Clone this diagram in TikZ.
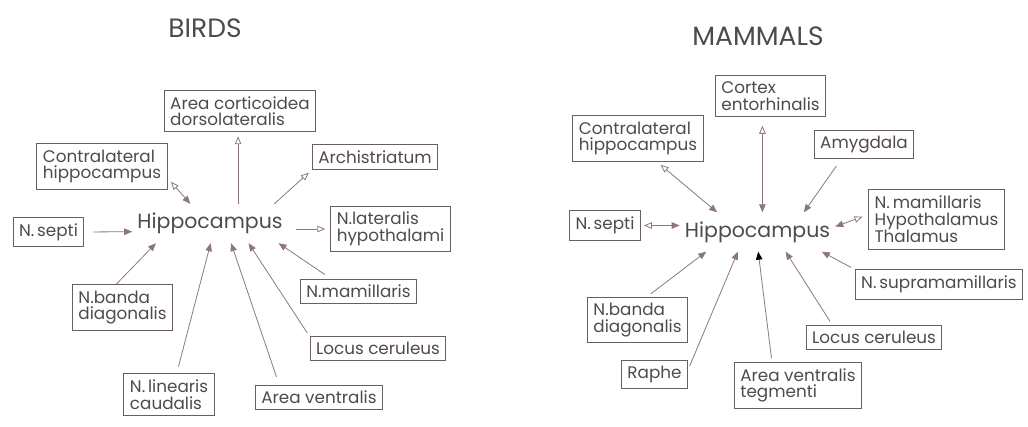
\documentclass[tikz,border=0pt]{standalone}
\usepackage{fontspec}
\setmainfont{Poppins}
\usetikzlibrary{arrows.meta}
\definecolor{boxgray}{HTML}{6B5E60}
\definecolor{arrmauve}{HTML}{8E7680}
\definecolor{txtgray}{HTML}{4F4A4B}
\tikzset{lbl/.style={draw=boxgray, line width=1pt, text=txtgray, align=left, inner xsep=6pt, inner ysep=6pt, font=\fontsize{16.8}{16.5}\selectfont},
  hippo/.style={text=txtgray, inner xsep=5pt, inner ysep=9pt, font=\fontsize{20.5}{24}\selectfont},
  ttl/.style={text=txtgray, font=\fontsize{26.5}{30}\selectfont},
  inarr/.style={-{Triangle[length=8pt,width=6.5pt]}, draw=arrmauve, line width=0.8pt},
  outarr/.style={-{Triangle[open,length=8pt,width=6.5pt]}, draw=arrmauve, line width=0.8pt},
  biarr/.style={{Triangle[open,length=8pt,width=6.5pt]}-{Triangle[length=8pt,width=6.5pt]}, draw=arrmauve, line width=0.8pt}}

\begin{document}
\begin{tikzpicture}[x=1pt, y=-1pt]
\useasboundingbox (0,0) rectangle (1028,426);
\node[ttl] (birds) at (205,28) {BIRDS};
\node[hippo] (hippoB) at (210,223.5) {Hippocampus};
\node[lbl] (cortB) at (240,111) {Area corticoidea\\dorsolateralis};
\node[lbl] (contraB) at (102,166.5) {Contralateral\\hippocampus};
\node[lbl] (archB) at (375,157) {Archistriatum};
\node[lbl] (septiB) at (48.5,232) {N.\,septi};
\node[lbl] (latB) at (390.5,229) {N.lateralis\\hypothalami};
\node[lbl] (mamB) at (358.5,291.5) {N.mamillaris};
\node[lbl] (bandaB) at (122.5,307.5) {N.banda\\diagonalis};
\node[lbl] (locB) at (378,348.5) {Locus ceruleus};
\node[lbl] (linB) at (169,394.5) {N.\,linearis\\caudalis};
\node[lbl] (avB) at (319,397.5) {Area ventralis};
\draw[inarr, shorten <=9pt] (septiB.east) -- (hippoB.186);
\draw[inarr] (bandaB.105) -- (hippoB.200);
\draw[inarr, shorten <=7pt] (linB.70) -- (hippoB.272);
\draw[inarr, shorten <=8pt] (avB.162) -- (hippoB.317);
\draw[inarr, shorten <=4pt] (locB.170) -- (hippoB.333);
\draw[inarr, shorten <=7pt] (mamB.155) -- (hippoB.344);
\draw[biarr, shorten <=5pt] (contraB.-10) -- (hippoB.135);
\draw[outarr, shorten >=4pt] (hippoB.35) -- (hippoB.35 |- cortB.south);
\draw[outarr, shorten >=4pt] (hippoB.17) -- (archB.south west);
\draw[outarr, shorten <=8pt, shorten >=5pt] (latB.west -| hippoB.east) -- (latB.west);

\node[ttl] (mammals) at (758,36) {MAMMALS};
\node[hippo] (hippoM) at (757.5,232) {Hippocampus};
\node[lbl] (cortM) at (770.5,96) {Cortex\\entorhinalis};
\node[lbl] (contraM) at (638,138.5) {Contralateral\\hippocampus};
\node[lbl] (amyM) at (864,144.5) {Amygdala};
\node[lbl] (mamM) at (936.5,219.5) {N.\,mamillaris\\Hypothalamus\\Thalamus};
\node[lbl] (septiM) at (605,225.5) {N.\,septi};
\node[lbl] (suprM) at (939,284.5) {N.\,supramamillaris};
\node[lbl] (bandaM) at (637.5,320) {N.banda\\diagonalis};
\node[lbl] (locM) at (874,337.5) {Locus ceruleus};
\node[lbl] (rapheM) at (654.5,374.5) {Raphe};
\node[lbl] (avtM) at (798,385.5) {Area ventralis\\tegmenti};
\draw[biarr, shorten <=5pt] (contraM.-51) -- (hippoM.154);
\draw[biarr, shorten <=9pt] (hippoM.76 |- cortM.south) -- (hippoM.76);
\draw[inarr, shorten <=8pt] (amyM.213) -- (hippoM.23);
\draw[biarr, shorten <=6pt] (mamM.176) -- (hippoM.4);
\draw[inarr, shorten <=4pt] (suprM.north west) -- (hippoM.343);
\draw[biarr, shorten <=3pt] (septiM.east) -- (septiM.east -| hippoM.west);
\draw[inarr, shorten <=5pt] (bandaM.68) -- (hippoM.201);
\draw[inarr, shorten <=4pt] (rapheM.8) -- (hippoM.225);
\draw[inarr, shorten <=4pt, -{Triangle[length=8pt,width=6.5pt,color=black]}] (avtM.138) -- (hippoM.272);
\draw[inarr, shorten <=4pt] (locM.163) -- (hippoM.325);
\end{tikzpicture}
\end{document}
